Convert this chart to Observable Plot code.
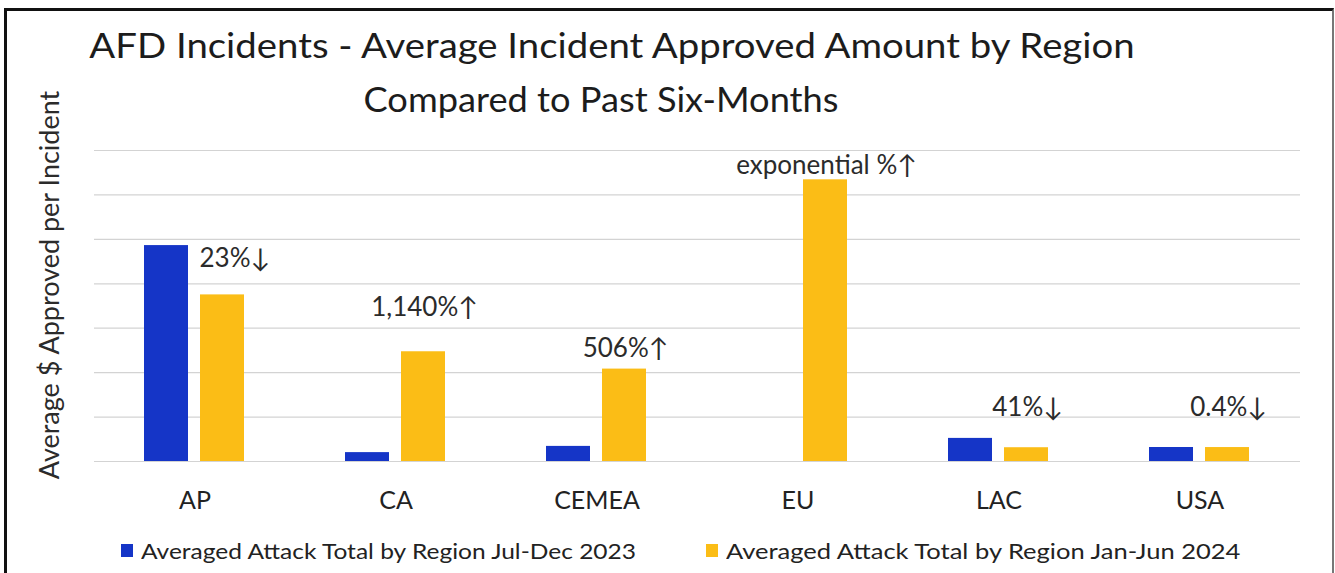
<!DOCTYPE html>
<html>
<head>
<meta charset="utf-8">
<script src="https://cdn.jsdelivr.net/npm/d3@7"></script>
<script src="https://cdn.jsdelivr.net/npm/@observablehq/plot@0.6"></script>
<style>
  html, body { margin: 0; padding: 0; background: #fff; }
  #wrap { position: relative; width: 1335px; height: 573px; overflow: hidden; font-family: Lato, sans-serif; color: #222; background: #fff; }
  #frame { position: absolute; left: 4px; top: 8px; width: 1330px; height: 700px; box-sizing: border-box;
           border-left: 3px solid #111; border-top: 3px solid #111; border-right: 2px solid #777; }
  .title { position: absolute; white-space: nowrap; font-size: 35px; line-height: 35px; color: #1c1c1c;
           transform-origin: 50% 50%; }
  #chart { position: absolute; left: 0; top: 130px; }
  .sw { position: absolute; top: 544px; width: 12px; height: 13px; }
  .lt { position: absolute; top: 540px; white-space: nowrap; font-size: 21px; line-height: 21px; color: #222; transform-origin: 0 50%; }
</style>
</head>
<body>
<div id="wrap">
  <div id="frame"></div>
  <div class="title" id="t1"></div>
  <div class="title" id="t2"></div>
  <div id="chart"></div>
  <div class="sw" id="sw1"></div><div class="lt" id="lt1"></div>
  <div class="sw" id="sw2"></div><div class="lt" id="lt2"></div>
</div>
<script>
// ---------- data ----------
const titleLines = ["AFD Incidents - Average Incident Approved Amount by Region", "Compared to Past Six-Months"];
const yLabel = "Average $ Approved per Incident";
const regions = ["AP", "CA", "CEMEA", "EU", "LAC", "USA"];
const periods = ["Jul-Dec 2023", "Jan-Jun 2024"];
const legendLabels = ["Averaged Attack Total by Region Jul-Dec 2023", "Averaged Attack Total by Region Jan-Jun 2024"];
// values in gridline units (no value axis shown in the source)
const julDec2023 = [4.86, 0.20, 0.34, 0, 0.52, 0.315];
const janJun2024 = [3.75, 2.47, 2.08, 6.34, 0.31, 0.314];
const changeLabels = ["23%\u2193", "1,140%\u2191", "506%\u2191", "exponential %\u2191", "41%\u2193", "0.4%\u2193"];
const changeLabelLevels = [4.57, 3.46, 2.55, 6.66, 1.22, 1.22];
const colors = ["#1535c7", "#fbbd16"];

// ---------- tables ----------
const bars = [];
regions.forEach((r, i) => {
  bars.push({region: r, period: periods[0], value: julDec2023[i]});
  bars.push({region: r, period: periods[1], value: janJun2024[i]});
});
const annots = regions.map((r, i) => ({region: r, period: periods[1], text: changeLabels[i], level: changeLabelLevels[i]}));

// ---------- chart ----------
const chart = Plot.plot({
  width: 1335,
  height: 390,
  marginTop: 20,
  marginBottom: 59,
  marginLeft: 91,
  marginRight: 33,
  style: {fontFamily: "Lato, sans-serif", fontSize: "25px", color: "#222", background: "transparent", overflow: "visible"},
  fx: {domain: regions, padding: 0, axis: "bottom", tickSize: 0, tickPadding: 30, label: null},
  x: {domain: periods, axis: null, paddingInner: 0.214, paddingOuter: 0.9},
  y: {domain: [0, 7], axis: null},
  color: {domain: periods, range: colors},
  marks: [
    Plot.gridY({ticks: 7, stroke: "#d3d3d3", strokeOpacity: 1, strokeWidth: 1.2}),
    Plot.barY(bars.filter(d => d.value > 0), {fx: "region", x: "period", y: "value", fill: "period"}),
    Plot.text(annots.filter(d => d.region === "AP"), {
      fx: "region", x: "period", y: "level", text: "text",
      textAnchor: "start", dx: -23, fontSize: 26, fill: "#2b2b2b"
    }),
    Plot.text(annots.filter(d => d.region !== "AP"), {
      fx: "region", x: "period", y: "level", text: "text",
      textAnchor: "middle", dx: 1, fontSize: 26, fill: "#2b2b2b"
    }),
    Plot.text([yLabel], {
      fx: [regions[0]], text: d => d, frameAnchor: "left", rotate: -90,
      textAnchor: "middle", lineAnchor: "top", dx: -55, dy: -21, fontSize: 27, fill: "#2b2b2b"
    })
  ]
});
document.getElementById("chart").appendChild(chart);

// ---------- title & legend (HTML) ----------
function fitCenter(el, text, cx, top, target) {
  el.textContent = text;
  el.style.left = cx + "px";
  el.style.top = top + "px";
  const w = el.offsetWidth;
  el.style.transform = `translateX(-50%) scaleX(${target / w})`;
}
function fitLeft(el, text, left, target) {
  el.textContent = text;
  el.style.left = left + "px";
  const w = el.offsetWidth;
  el.style.transform = `scaleX(${target / w})`;
}
fitCenter(document.getElementById("t1"), titleLines[0], 612, 27, 1045);
fitCenter(document.getElementById("t2"), titleLines[1], 601, 81, 475);

const sw1 = document.getElementById("sw1"), sw2 = document.getElementById("sw2");
sw1.style.left = "121px"; sw1.style.background = colors[0];
sw2.style.left = "706px"; sw2.style.background = colors[1];
fitLeft(document.getElementById("lt1"), legendLabels[0], 141, 495);
fitLeft(document.getElementById("lt2"), legendLabels[1], 726, 514);
</script>
</body>
</html>
